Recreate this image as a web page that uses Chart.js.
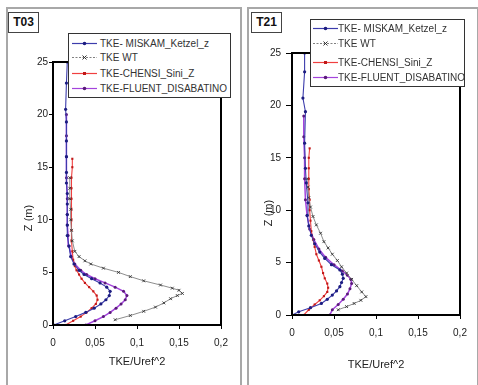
<!DOCTYPE html>
<html>
<head>
<meta charset="utf-8">
<script src="https://cdn.jsdelivr.net/npm/chart.js@4/dist/chart.umd.min.js"></script>
<style>
  body { margin: 0; width: 478px; height: 385px; overflow: hidden; background: #fff; position: relative; font-family: "Liberation Sans", Arial, sans-serif; }
  .panel { position: absolute; border: 2px solid #a8a8a8; background: #fff; }
  canvas { position: absolute; top: 0; }
  .tag { position: absolute; border: 1px solid #444; background: #fff; font-weight: bold; font-size: 12px; line-height: 18px; text-align: center; color: #111; }
  .legend { position: absolute; border: 1px solid #333; background: #fff; }
  .row { position: absolute; left: 0; height: 14px; font-size: 10px; line-height: 14px; color: #333; white-space: nowrap; }
  .row svg { position: absolute; top: 0; }
  .row span { position: absolute; top: 0; }
  .ztitle { position: absolute; font-size: 11px; color: #222; transform: rotate(-90deg); white-space: nowrap; }
</style>
</head>
<body>
<div class="panel" style="left:6px; top:7px; width:232px; height:400px;"></div>
<div class="panel" style="left:247px; top:7px; width:228px; height:400px;"></div>

<canvas id="chartT03" width="240" height="385" style="left:0px"></canvas>
<canvas id="chartT21" width="238" height="385" style="left:240px"></canvas>

<div class="tag" style="left:8px; top:12px; width:29px; height:19px;">T03</div>
<div class="tag" style="left:251px; top:12px; width:29px; height:19px;">T21</div>

<div class="ztitle" style="left:15px; top:212px;">Z (m)</div>
<div class="ztitle" style="left:255px; top:207px;">Z (m)</div>

<div class="legend" id="legT03" style="left:68px; top:33px; width:161px; height:63px;"></div>
<div class="legend" id="legT21" style="left:310px; top:19px; width:153px; height:66px;"></div>

<script>
// T03 - heights (m) and TKE/Uref^2 values
const zMiskamT03 = [0, 0.4, 0.8, 1.2, 1.6, 2.0, 2.4, 2.8, 3.2, 3.6, 4.0, 4.4, 4.8, 5.2, 5.8, 6.5, 7.5, 8.5, 9.5, 10.5, 11.5, 12.5, 13.5, 14.5, 16, 17.5, 19.3, 20.5, 23, 25];
const vMiskamT03 = [0.001, 0.014, 0.027, 0.039, 0.049, 0.057, 0.063, 0.067, 0.068, 0.064, 0.056, 0.046, 0.037, 0.031, 0.025, 0.021, 0.019, 0.017, 0.017, 0.017, 0.017, 0.017, 0.016, 0.016, 0.016, 0.016, 0.016, 0.015, 0.016, 0.017];
const zWtT03 = [0.5, 0.9, 1.3, 1.7, 2.1, 2.5, 2.8, 3.0, 3.3, 3.5, 3.8, 4.2, 4.6, 5.0, 5.4, 5.8, 6.1, 6.5, 7.0, 8, 9, 10, 11, 12, 13, 14];
const vWtT03 = [0.074, 0.092, 0.108, 0.122, 0.132, 0.140, 0.148, 0.154, 0.150, 0.142, 0.128, 0.108, 0.092, 0.078, 0.060, 0.045, 0.038, 0.031, 0.026, 0.023, 0.022, 0.021, 0.021, 0.020, 0.020, 0.020];
const zChensiT03 = [0, 0.4, 0.8, 1.2, 1.6, 2.0, 2.4, 2.8, 3.2, 3.6, 4.0, 4.4, 4.8, 5.2, 5.6, 6.2, 7, 8, 9, 10, 11, 12, 13, 14, 15, 15.8];
const vChensiT03 = [0.015, 0.024, 0.033, 0.040, 0.046, 0.051, 0.053, 0.052, 0.048, 0.043, 0.038, 0.034, 0.031, 0.028, 0.026, 0.024, 0.023, 0.022, 0.022, 0.022, 0.022, 0.022, 0.022, 0.022, 0.023, 0.023];
const zFluentT03 = [0, 0.4, 0.8, 1.2, 1.6, 2.0, 2.4, 2.8, 3.2, 3.6, 4.0, 4.4, 4.8, 5.2, 5.8, 6.5, 7.5, 8.5, 9.5, 10.5, 12, 14, 16, 18, 20];
const vFluentT03 = [0.039, 0.050, 0.060, 0.068, 0.075, 0.081, 0.086, 0.088, 0.084, 0.074, 0.062, 0.050, 0.040, 0.033, 0.026, 0.022, 0.019, 0.018, 0.017, 0.017, 0.017, 0.016, 0.016, 0.016, 0.016];

// T21
const zMiskamT21 = [0, 0.3, 0.7, 1.1, 1.5, 1.9, 2.3, 2.7, 3.1, 3.5, 3.9, 4.3, 4.8, 5.4, 6.0, 6.8, 7.6, 8.5, 9.5, 10.7, 12.6, 14, 16.4, 19.4, 20.7, 23.2, 25];
const vMiskamT21 = [0.0, 0.008, 0.022, 0.035, 0.042, 0.048, 0.053, 0.057, 0.059, 0.061, 0.060, 0.057, 0.047, 0.039, 0.033, 0.027, 0.023, 0.020, 0.018, 0.019, 0.017, 0.016, 0.015, 0.016, 0.013, 0.015, 0.015];
const zWtT21 = [0.5, 0.8, 1.1, 1.4, 1.75, 2.2, 2.8, 3.4, 4.0, 4.6, 5.2, 5.8, 6.4, 7.0, 7.8, 8.6, 9.4, 10.3, 11.2, 12.2, 13];
const vWtT21 = [0.055, 0.065, 0.074, 0.082, 0.088, 0.083, 0.077, 0.071, 0.065, 0.059, 0.054, 0.048, 0.043, 0.038, 0.034, 0.029, 0.025, 0.022, 0.020, 0.019, 0.018];
const zChensiT21 = [0, 0.5, 1.0, 1.4, 1.8, 2.2, 2.6, 3.0, 3.5, 4.0, 4.6, 5.2, 5.8, 6.5, 7.2, 8.0, 9, 10, 11, 12, 13, 14, 15, 15.9];
const vChensiT21 = [0.014, 0.020, 0.027, 0.033, 0.038, 0.042, 0.043, 0.042, 0.039, 0.037, 0.035, 0.032, 0.029, 0.027, 0.025, 0.023, 0.022, 0.021, 0.021, 0.020, 0.020, 0.020, 0.020, 0.021];
const zFluentT21 = [0, 0.5, 1.0, 1.5, 2.0, 2.5, 3.0, 3.4, 3.8, 4.2, 4.8, 5.5, 6.3, 7.2, 8.2, 9.5, 11, 13, 15, 17, 19];
const vFluentT21 = [0.045, 0.048, 0.055, 0.061, 0.066, 0.069, 0.071, 0.070, 0.066, 0.060, 0.050, 0.040, 0.032, 0.026, 0.021, 0.018, 0.016, 0.015, 0.015, 0.014, 0.014];

const seriesNames = ['TKE- MISKAM_Ketzel_z', 'TKE WT', 'TKE-CHENSI_Sini_Z', 'TKE-FLUENT_DISABATINO'];
const xTicks = [0, 0.05, 0.1, 0.15, 0.2];
const yTicks = [0, 5, 10, 15, 20, 25];

const styles = [
  { borderColor: '#3c3cac', borderWidth: 1.1, pointRadius: 1.6, pointStyle: 'circle', pointBackgroundColor: '#1c1c80', pointBorderColor: '#1c1c80', pointBorderWidth: 0 },
  { borderColor: '#808080', borderWidth: 0.9, pointRadius: 2, pointStyle: 'crossRot', pointBackgroundColor: '#333', pointBorderColor: '#333', pointBorderWidth: 0.9 },
  { borderColor: '#f04040', borderWidth: 1.1, pointRadius: 1.5, pointStyle: 'rect', pointBackgroundColor: '#c01818', pointBorderColor: '#c01818', pointBorderWidth: 0 },
  { borderColor: '#a444dc', borderWidth: 1.5, pointRadius: 1.5, pointStyle: 'circle', pointBackgroundColor: '#5a1a7a', pointBorderColor: '#5a1a7a', pointBorderWidth: 0 }
];

function pts(z, v) { return z.map((h, i) => ({ x: v[i], y: h })); }

const fmt = v => String(+v.toFixed(2)).replace('.', ',');

// black box around plot area
const frame = {
  id: 'frame',
  afterDatasetsDraw(chart) {
    const a = chart.chartArea, c = chart.ctx;
    c.save();
    c.strokeStyle = '#000';
    c.lineWidth = 2;
    c.strokeRect(a.left, a.top, a.right - a.left, a.bottom - a.top);
    c.restore();
  }
};

function makeChart(id, series, o) {
  const datasets = series.map((s, i) => Object.assign({
    label: seriesNames[i], data: pts(s[0], s[1]), showLine: true, fill: false, tension: 0
  }, styles[i]));
  return new Chart(document.getElementById(id), {
    type: 'scatter',
    data: { datasets },
    plugins: [frame],
    options: {
      responsive: false,
      animation: false,
      devicePixelRatio: 1,
      layout: { padding: { left: 0, right: o.padRight, top: o.padTop, bottom: 0 } },
      plugins: { legend: { display: false }, tooltip: { enabled: false } },
      scales: {
        x: {
          type: 'linear', min: 0, max: 0.2,
          afterBuildTicks: s => { s.ticks = xTicks.map(v => ({ value: v })); },
          afterFit: s => { s.height = o.xHeight; },
          ticks: { callback: fmt, color: '#222', font: { size: 10, family: 'Liberation Sans' }, padding: 8, maxRotation: 0 },
          grid: { drawOnChartArea: false, tickLength: 4, color: '#000' },
          border: { color: '#000', width: 2 },
          title: { display: true, text: 'TKE/Uref^2', color: '#222', font: { size: 11, family: 'Liberation Sans' }, padding: { top: 0, bottom: o.titlePad } }
        },
        y: {
          type: 'linear', min: 0, max: 25,
          afterBuildTicks: s => { s.ticks = yTicks.map(v => ({ value: v })); },
          afterFit: s => { s.width = o.yWidth; },
          ticks: { color: '#222', font: { size: 10, family: 'Liberation Sans' }, padding: o.yPad },
          grid: { drawOnChartArea: false, tickLength: o.yTick, color: '#000' },
          border: { color: '#000', width: 2 }
        }
      }
    }
  });
}

makeChart('chartT03', [
  [zMiskamT03, vMiskamT03], [zWtT03, vWtT03], [zChensiT03, vChensiT03], [zFluentT03, vFluentT03]
], { padRight: 19, padTop: 62, xHeight: 60, yWidth: 53, titlePad: 16.4, yPad: 1, yTick: 4 });

makeChart('chartT21', [
  [zMiskamT21, vMiskamT21], [zWtT21, vWtT21], [zChensiT21, vChensiT21], [zFluentT21, vFluentT21]
], { padRight: 18, padTop: 53, xHeight: 70, yWidth: 52, titlePad: 13.4, yPad: 5, yTick: 6 });

// legends inside the plots
function sample(i) {
  const s = styles[i];
  const dash = i === 1 ? ' stroke-dasharray="2,1.5"' : '';
  let mark;
  if (s.pointStyle === 'crossRot') mark = '<path d="M10.5 4.5 L14.5 8.5 M14.5 4.5 L10.5 8.5" stroke="#333" stroke-width="1"/>';
  else if (s.pointStyle === 'rect') mark = '<rect x="11" y="5" width="3" height="3" fill="' + s.pointBackgroundColor + '"/>';
  else mark = '<circle cx="12.5" cy="6.5" r="1.8" fill="' + s.pointBackgroundColor + '"/>';
  return '<line x1="0" y1="6.5" x2="25" y2="6.5" stroke="' + s.borderColor + '" stroke-width="1.2"' + dash + '/>' + mark;
}
function fillLegend(id, rowTops, lineX, textX) {
  const el = document.getElementById(id);
  el.innerHTML = seriesNames.map((n, i) =>
    '<div class="row" style="top:' + rowTops[i] + 'px; width:100%">' +
    '<svg style="left:' + lineX + 'px" width="25" height="14">' + sample(i) + '</svg>' +
    '<span style="left:' + textX + 'px">' + n + '</span></div>').join('');
}
fillLegend('legT03', [3, 17, 33, 48], 3, 31);
fillLegend('legT21', [2, 17, 36, 51], 2, 27);
</script>
</body>
</html>
